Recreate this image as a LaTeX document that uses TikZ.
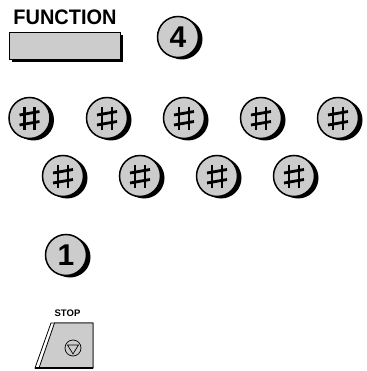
\documentclass[tikz,border=0pt]{standalone}
\usepackage{fontspec}
\setmainfont{Liberation Sans}
\usetikzlibrary{shadows}
\definecolor{keygray}{gray}{0.8}
\tikzset{
  keybtn/.style={circle, draw, line width=1.5pt, fill=keygray, minimum size=41pt, inner sep=0pt,
    font=\bfseries\fontsize{30}{30}\selectfont,
    drop shadow={shadow xshift=4pt, shadow yshift=-2pt, fill=black, opacity=1}},
  fnbtn/.style={rectangle, draw, line width=0.8pt, fill=keygray, minimum width=111pt, minimum height=27pt,
    drop shadow={shadow xshift=3pt, shadow yshift=-3pt, fill=black, opacity=1}},
  sharpmark/.pic={
    \draw[line width=2.8pt] (-5,-11) -- (-5,12) (5,-11) -- (5,12);
    \draw[line width=2.8pt] (-10,-3) -- (10,-6.5) (-10,7) -- (10,3.5);
  }
}
\begin{document}
\begin{tikzpicture}[x=1pt,y=-1pt]
  \useasboundingbox (0,0) rectangle (366,371);
  % function key and 4
  \node[font=\bfseries\fontsize{21}{21}\selectfont, xscale=0.95] (flabel) at (65,17.5) {FUNCTION};
  \node[fnbtn] (fbtn) at (64.5,45.5) {};
  \node[keybtn] (k4) at (178,37) {4};
  % two rows of # keys
  \foreach \n/\x in {1/29.5, 2/107, 3/184, 4/261, 5/338}
    {\node[keybtn] (ha\n) at (\x,118) {}; \pic at (ha\n) {sharpmark};}
  \foreach \n/\x in {1/63, 2/140, 3/217, 4/294}
    {\node[keybtn] (hb\n) at (\x,176) {}; \pic at (hb\n) {sharpmark};}
  \node[keybtn] (k1) at (66,255) {1};
  % stop key
  \node[font=\bfseries\fontsize{9.5}{9.5}\selectfont] (stoplabel) at (67.5,313.5) {STOP};
  \draw[fill=white, line width=0.8pt] (35,368) -- (51,323) -- (93,323) -- (93,368) -- cycle;
  \draw[fill=keygray, line width=0.8pt] (39,368) -- (54.5,323) -- (93,323) -- (93,368) -- cycle;
  \draw[line width=1.6pt] (35,368) -- (93,368);
  \node[circle, draw, line width=0.7pt, minimum size=16pt, inner sep=0pt] (stopsym) at (73,348) {};
  \draw[line width=0.7pt] (stopsym.center) ++(-5.5,-3) -- ++(11,0) -- ++(-5.5,9) -- cycle;
\end{tikzpicture}
\end{document}
